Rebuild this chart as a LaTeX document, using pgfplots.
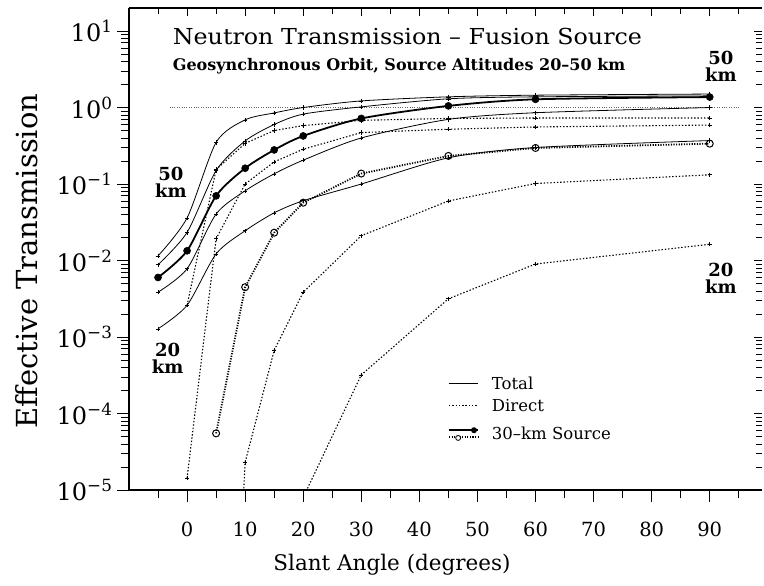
\documentclass[border=0pt]{standalone}
\usepackage{pgfplots}
\pgfplotsset{compat=1.18}
\usepackage{fontspec}
\setmainfont{DejaVu Serif}
\begin{document}
\begin{tikzpicture}
\useasboundingbox (-129pt,-96pt) rectangle (635pt,490pt);
\begin{axis}[
  scale only axis, width=633pt, height=482pt,
  xmin=-10, xmax=99, ymin=1e-5, ymax=20, ymode=log,
  axis x line*=bottom, axis y line*=left,
  axis line style={line width=1.6pt},
  tick align=outside,
  xtick={0,10,...,90}, minor xtick={-5,5,...,95},
  ytick={1e-5,1e-4,1e-3,1e-2,1e-1,1,10},
  yticklabels={10\textsuperscript{−5},10\textsuperscript{−4},10\textsuperscript{−3},10\textsuperscript{−2},10\textsuperscript{−1},10\textsuperscript{0},10\textsuperscript{1}},
  major tick length=12pt, minor tick length=8pt,
  every tick/.style={black, line width=0.8pt},
  xticklabel style={font=\fontsize{19.5}{19.5}\selectfont, /pgf/number format/assume math mode=true, yshift=-16pt},
  yticklabel style={font=\fontsize{24}{24}\selectfont, xshift=-1pt},
  clip=true,
  xlabel={Slant Angle (degrees)}, ylabel={Effective Transmission},
  xlabel style={font=\fontsize{21.5}{21.5}\selectfont, at={(axis description cs:0.4155,-0.1556)}, anchor=center},
  ylabel style={font=\fontsize{29}{29}\selectfont, at={(axis description cs:-0.161,0.475)}, anchor=center},
  tot/.style={black, line width=0.8pt, smooth, tension=0.45, mark=+, mark size=2.2pt, mark options={solid, line width=0.6pt}},
  dir/.style={black, line width=1.1pt, dash pattern=on 1.4pt off 1.9pt, mark=+, mark size=2.2pt, mark options={solid, line width=0.6pt}},
]
% unity reference line
\addplot[black!60, dotted, line width=0.4pt] coordinates {(-3,1) (95,1)};
% Totals (source altitudes 50, 40, 30, 25, 20 km)
\addplot[tot] coordinates {(-5,0.0115) (0,0.036) (5,0.35) (10,0.69) (15,0.85) (20,1.0) (30,1.22) (45,1.38) (60,1.45) (90,1.5)};
\addplot[tot] coordinates {(-5,0.0088) (0,0.0233) (5,0.15) (10,0.366) (15,0.60) (20,0.82) (30,1.02) (45,1.30) (60,1.38) (90,1.42)};
\addplot[tot, line width=1.8pt, mark=*, mark size=3.5pt] coordinates {(-5,0.006) (0,0.0134) (5,0.070) (10,0.161) (15,0.279) (20,0.425) (30,0.72) (45,1.05) (60,1.28) (90,1.37)};
\addplot[tot] coordinates {(-5,0.00385) (0,0.0078) (5,0.0405) (10,0.0815) (15,0.136) (20,0.205) (30,0.40) (45,0.70) (60,0.855) (90,1.0)};
\addplot[tot] coordinates {(-5,0.00128) (0,0.0026) (5,0.0122) (10,0.0245) (15,0.042) (20,0.0605) (30,0.10) (45,0.22) (60,0.30) (90,0.37)};
% Directs
\addplot[dir] coordinates {(0,0.0026) (5,0.155) (10,0.34) (15,0.50) (20,0.58) (30,0.68) (45,0.72) (60,0.73) (90,0.73)};
\addplot[dir] coordinates {(0,1.43e-5) (5,0.0193) (10,0.10) (15,0.195) (20,0.285) (30,0.47) (45,0.52) (60,0.557) (90,0.59)};
\addplot[dir, line width=1.8pt, dash pattern=on 1.2pt off 1.4pt, mark=o, mark size=3.5pt, mark options={solid, fill=white, line width=1pt}] coordinates {(5,5.5e-5) (10,0.00448) (15,0.0231) (20,0.057) (30,0.137) (45,0.233) (60,0.296) (90,0.337)};
\addplot[dir] coordinates {(5,1e-12) (10,2.3e-5) (15,6.7e-4) (20,3.85e-3) (30,0.0211) (45,0.060) (60,0.1016) (90,0.132)};
\addplot[dir] coordinates {(20,8e-6) (30,3.2e-4) (45,3.16e-3) (60,9.0e-3) (90,0.0163)};
% annotations
\node[anchor=north west, inner sep=0pt] at (axis description cs:0.069,0.958) {\scalebox{1.08}[1]{\fontsize{22}{22}\selectfont Neutron Transmission -- Fusion Source}};
\node[anchor=north west, inner sep=0pt] at (axis description cs:0.069,0.897) {\bfseries\fontsize{16}{16}\selectfont Geosynchronous Orbit, Source Altitudes 20--50 km};
\node[align=center, inner sep=0pt, font=\bfseries\fontsize{18}{17}\selectfont] at (axis description cs:0.935,0.88) {50\\km};
\node[align=center, inner sep=0pt, font=\bfseries\fontsize{18}{17}\selectfont] at (axis description cs:0.0663,0.639) {50\\km};
\node[align=center, inner sep=0pt, font=\bfseries\fontsize{18}{17}\selectfont] at (axis description cs:0.061,0.274) {20\\km};
\node[align=center, inner sep=0pt, font=\bfseries\fontsize{18}{17}\selectfont] at (axis description cs:0.935,0.44) {20\\km};
% legend
\draw[line width=0.8pt] (axis description cs:0.5055,0.222) -- (axis description cs:0.5513,0.222);
\node[anchor=west, inner sep=0pt, font=\fontsize{16.5}{16.5}\selectfont] at (axis description cs:0.573,0.222) {Total};
\draw[line width=1pt, dash pattern=on 1.4pt off 1.9pt] (axis description cs:0.5055,0.175) -- (axis description cs:0.5513,0.175);
\node[anchor=west, inner sep=0pt, font=\fontsize{16.5}{16.5}\selectfont] at (axis description cs:0.573,0.175) {Direct};
\draw[line width=1.5pt] (axis description cs:0.5055,0.124) -- (axis description cs:0.5513,0.124);
\fill (axis description cs:0.545,0.124) circle (3pt);
\draw[line width=1.2pt, dash pattern=on 1.2pt off 1.4pt] (axis description cs:0.5055,0.11) -- (axis description cs:0.5513,0.11);
\draw[fill=white, line width=0.8pt] (axis description cs:0.52,0.108) circle (2.5pt);
\node[anchor=west, inner sep=0pt, font=\fontsize{16.5}{16.5}\selectfont] at (axis description cs:0.573,0.118) {30--km Source};
\end{axis}
\begin{axis}[
  scale only axis, width=633pt, height=482pt,
  xmin=-10, xmax=99, ymin=1e-5, ymax=20, ymode=log,
  axis x line*=top, axis y line*=right,
  axis line style={line width=1.6pt},
  y axis line style={draw=none},
  tick align=inside,
  xtick={0,10,...,90}, minor xtick={-5,5,...,95},
  ytick={1e-5,1e-4,1e-3,1e-2,1e-1,1,10},
  major tick length=8pt, minor tick length=6pt,
  every tick/.style={black, line width=0.8pt},
  xticklabels={}, yticklabels={},
]
\end{axis}
\end{tikzpicture}
\end{document}
